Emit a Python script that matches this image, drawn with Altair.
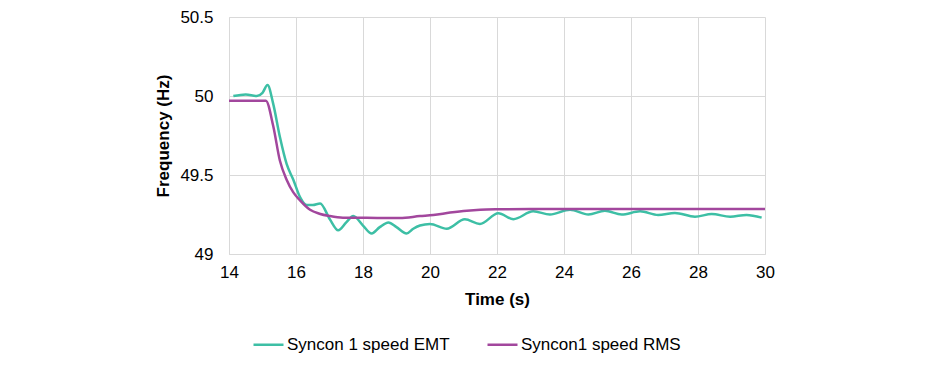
import altair as alt
import pandas as pd

emt_t = [14.13, 14.5, 14.83, 15.0, 15.15, 15.32, 15.52, 15.72, 15.92, 16.12, 16.32, 16.5, 16.72,
         17.01, 17.26, 17.5, 17.71, 18.0, 18.26, 18.5, 18.76, 19.0, 19.3, 19.5, 19.7, 20.0,
         20.5, 21.04, 21.49, 22.04, 22.49, 23.08, 23.58, 24.18, 24.73, 25.22, 25.72, 26.27,
         26.81, 27.31, 27.91, 28.41, 28.96, 29.45, 29.9]
emt_f = [50.00, 50.01, 50.00, 50.02, 50.07, 49.95, 49.74, 49.57, 49.47, 49.36, 49.31, 49.31, 49.32,
         49.22, 49.15, 49.20, 49.24, 49.18, 49.13, 49.17, 49.20, 49.17, 49.13, 49.16, 49.18, 49.19,
         49.16, 49.22, 49.19, 49.258, 49.22, 49.27, 49.25, 49.28, 49.25, 49.274, 49.25, 49.27,
         49.247, 49.26, 49.236, 49.253, 49.236, 49.247, 49.23]

rms_t = [14.0, 15.1, 15.32, 15.52, 15.72, 15.92, 16.12, 16.42, 16.7, 17.01, 17.4, 17.71, 18.5,
         19.1, 19.7, 20.1, 20.6, 21.1, 21.5, 21.99, 23.0, 30.0]
rms_f = [49.97, 49.97, 49.81, 49.59, 49.47, 49.39, 49.34, 49.28, 49.255, 49.24, 49.23, 49.23, 49.228,
         49.228, 49.24, 49.247, 49.262, 49.274, 49.28, 49.283, 49.285, 49.285]

series = ["Syncon 1 speed EMT", "Syncon1 speed RMS"]
colors = ["#3DBFA5", "#A2479D"]

df = pd.concat([
    pd.DataFrame({"t": emt_t, "f": emt_f, "s": series[0], "o": range(len(emt_t))}),
    pd.DataFrame({"t": rms_t, "f": rms_f, "s": series[1], "o": range(len(rms_t))}),
])

font = "Liberation Sans"

chart = alt.Chart(df).mark_line(strokeWidth=2.5, interpolate="monotone").encode(
    x=alt.X("t:Q", scale=alt.Scale(domain=[14, 30], nice=False),
            axis=alt.Axis(title="Time (s)", values=[14, 16, 18, 20, 22, 24, 26, 28, 30],
                          format="~g", labelPadding=10, titlePadding=11,
                          labelFlush=False, labelOverlap=False)),
    y=alt.Y("f:Q", scale=alt.Scale(domain=[49, 50.5], nice=False, zero=False),
            axis=alt.Axis(title="Frequency (Hz)", values=[49, 49.5, 50, 50.5],
                          format="~g", labelPadding=16, titlePadding=7,
                          labelFlush=False, labelOverlap=False)),
    color=alt.Color("s:N", scale=alt.Scale(domain=series, range=colors),
                    legend=alt.Legend(title=None, orient="none", direction="horizontal",
                                      legendX=23, legendY=311, symbolType="stroke",
                                      symbolSize=900, symbolStrokeWidth=2.5,
                                      labelFontSize=17, labelFont=font, labelColor="#000000",
                                      labelLimit=400, columnPadding=32, labelOffset=2)),
    order="o:Q",
).properties(
    width=536, height=237,
    autosize=alt.AutoSizeParams(type="none"),
    padding={"left": 221, "top": 9, "right": 159, "bottom": 107},
).configure_axis(
    labelFont=font, labelFontSize=17, labelColor="#000000",
    titleFont=font, titleFontSize=17, titleFontWeight="bold", titleColor="#000000",
    grid=True, gridColor="#D9D9D9", domainColor="#D9D9D9", ticks=False,
).configure_view(stroke=None)

chart.save("out.html", embed_options={"renderer": "svg", "actions": False})
